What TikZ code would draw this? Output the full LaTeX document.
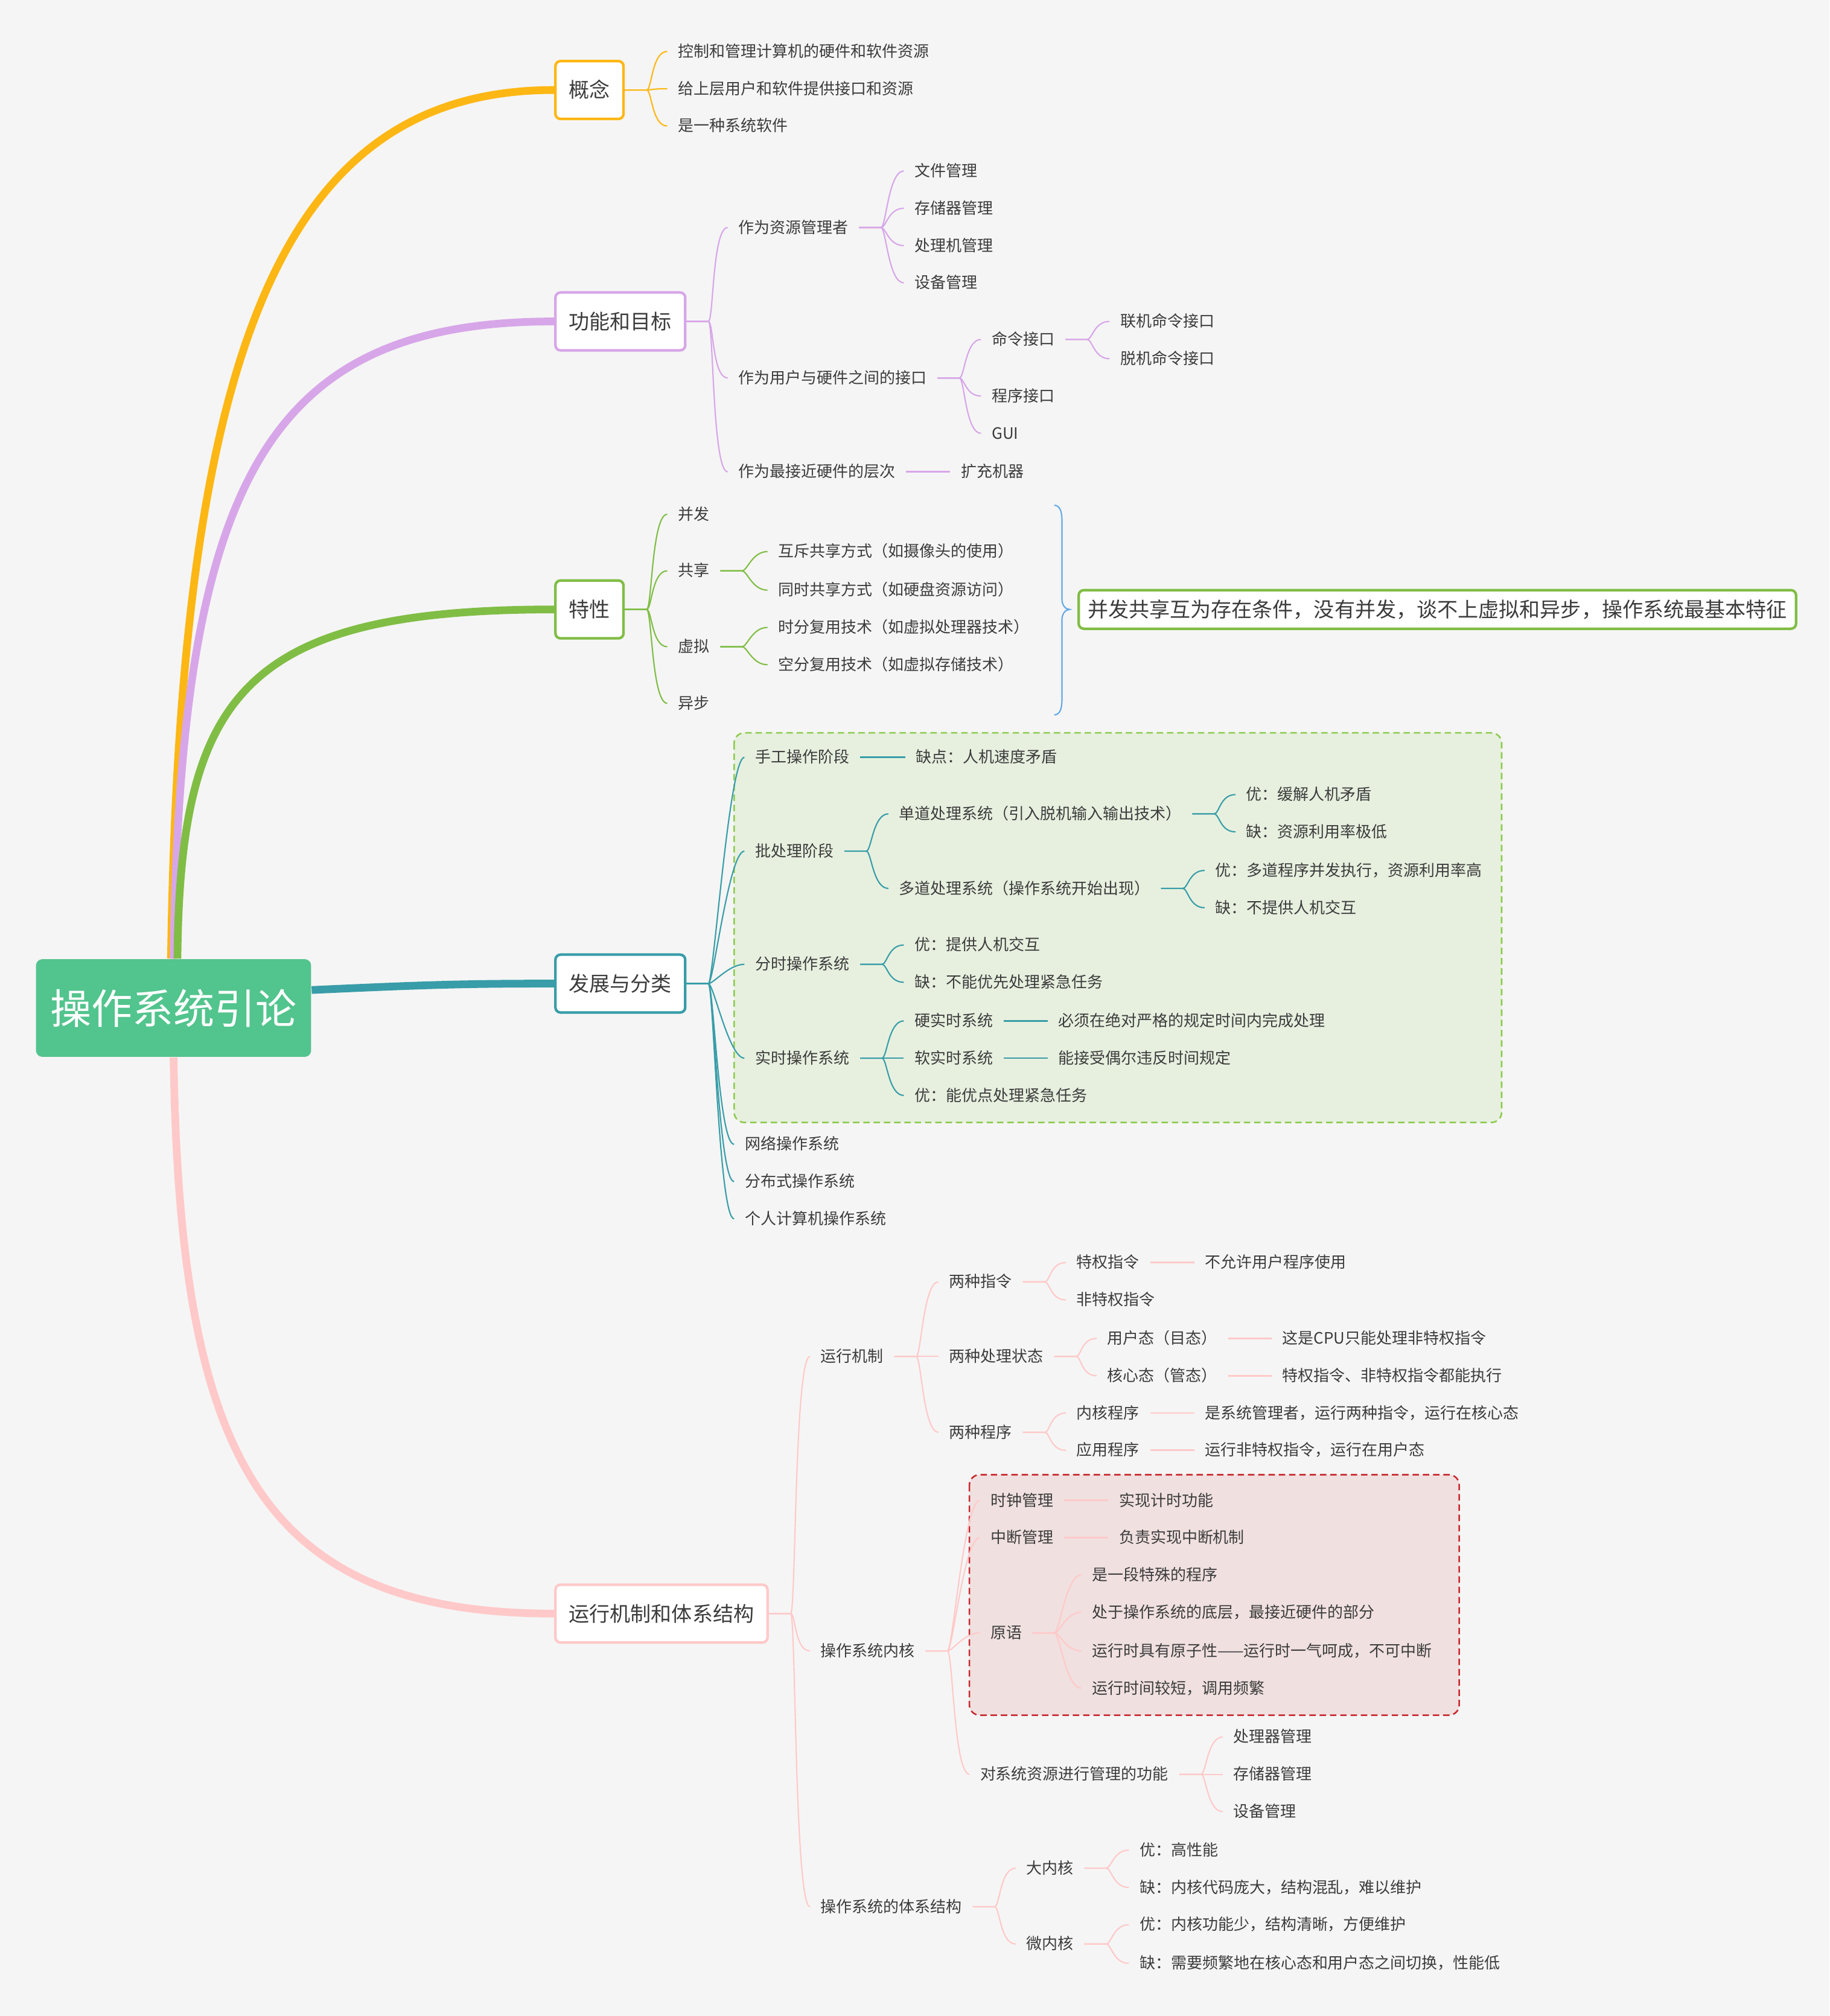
\documentclass[tikz,border=0pt]{standalone}
\usepackage{fontspec}
\setmainfont{Noto Sans CJK SC}
\usetikzlibrary{positioning, backgrounds}
\definecolor{bg}{HTML}{F5F5F5}
\definecolor{ink}{HTML}{3C3C3C}
\definecolor{yel}{HTML}{FDB714}
\definecolor{pur}{HTML}{D7A6E8}
\definecolor{grn}{HTML}{80BD45}
\definecolor{tea}{HTML}{389DA8}
\definecolor{pnk}{HTML}{FFC9C9}
\definecolor{osg}{HTML}{52C48D}
\definecolor{brc}{HTML}{62A8E6}
\definecolor{grnbox}{HTML}{E7F0DF}
\definecolor{grndash}{HTML}{8CCB4C}
\definecolor{redbox}{HTML}{F0E0E0}
\definecolor{reddash}{HTML}{C8282E}

\begin{document}
\begin{tikzpicture}[x=1pt, y=-1pt, thick,
    leaf/.style = {anchor=west, inner xsep=8pt, inner ysep=1pt, text=ink, text height=10pt, text depth=1.4pt, font=\fontsize{12.2}{14}\selectfont},
    topic/.style = {draw=#1, anchor=west, fill=white, line width=2pt, rounded corners=4pt, inner xsep=10.5pt, minimum height=45pt, text=ink, text height=14pt, text depth=2pt, font=\fontsize{16}{19}\selectfont},
    fan/.style = {out=0, in=180, out distance=4pt, in distance=12pt},
    ln/.style = {draw=#1, line width=1pt},
    link/.style = {draw=#1, line width=1.3pt},
    main/.style = {draw=#1, line width=6pt},
    zone/.style = {fill=#1box, draw=#1dash, line width=1.2pt, dash pattern=on 5pt off 3pt, rounded corners=8pt}]
    \useasboundingbox (0,0) rectangle (1423,1568);

    \node[fill=osg, rounded corners=5pt, text=white, minimum width=214pt, minimum height=76pt, inner sep=0pt, font=\fontsize{32}{36}\selectfont] (os) at (135,784) {操作系统引论};

    \node[topic=yel] (gn) at (431,70) {概念};
    \node[topic=pur] (gm) at (431,250) {功能和目标};
    \node[topic=grn] (tx) at (431,474) {特性};
    \node[topic=tea] (fz) at (431,765) {发展与分类};
    \node[topic=pnk] (yx) at (431,1255) {运行机制和体系结构};

    % 概念
    \node[leaf] (gn1) at (519,40) {控制和管理计算机的硬件和软件资源};
    \node[leaf] (gn2) at (519,69) {给上层用户和软件提供接口和资源};
    \node[leaf] (gn3) at (519,98) {是一种系统软件};

    % 功能和目标
    \node[leaf] (gm1) at (566,177) {作为资源管理者};
    \node[leaf] (gm2) at (566,294) {作为用户与硬件之间的接口};
    \node[leaf] (gm3) at (566,367) {作为最接近硬件的层次};
    \node[leaf] (zy1) at (703,133) {文件管理};
    \node[leaf] (zy2) at (703,162) {存储器管理};
    \node[leaf] (zy3) at (703,191) {处理机管理};
    \node[leaf] (zy4) at (703,220) {设备管理};
    \node[leaf] (jk1) at (763,264) {命令接口};
    \node[leaf] (jk2) at (763,308) {程序接口};
    \node[leaf] (jk3) at (763,337) {GUI};
    \node[leaf] (ml1) at (863,250) {联机命令接口};
    \node[leaf] (ml2) at (863,279) {脱机命令接口};
    \node[leaf] (kc) at (739,367) {扩充机器};

    % 特性
    \node[leaf] (tx1) at (519,400) {并发};
    \node[leaf] (tx2) at (519,444) {共享};
    \node[leaf] (tx3) at (519,503) {虚拟};
    \node[leaf] (tx4) at (519,547) {异步};
    \node[leaf] (gx1) at (597,429) {互斥共享方式（如摄像头的使用）};
    \node[leaf] (gx2) at (597,459) {同时共享方式（如硬盘资源访问）};
    \node[leaf] (xn1) at (597,488) {时分复用技术（如虚拟处理器技术）};
    \node[leaf] (xn2) at (597,517) {空分复用技术（如虚拟存储技术）};
    \node[draw=grn, fill=white, line width=2pt, rounded corners=4pt, anchor=west, inner xsep=7pt, minimum height=30pt, text=ink, font=\fontsize{16}{19}\selectfont] (zj) at (838,474) {并发共享互为存在条件，没有并发，谈不上虚拟和异步，操作系统最基本特征};

    % 发展与分类
    \node[leaf] (fz1) at (579,589) {手工操作阶段};
    \node[leaf] (fz2) at (579,662) {批处理阶段};
    \node[leaf] (fz3) at (579,750) {分时操作系统};
    \node[leaf] (fz4) at (579,823) {实时操作系统};
    \node[leaf] (fz5) at (571,890) {网络操作系统};
    \node[leaf] (fz6) at (571,919) {分布式操作系统};
    \node[leaf] (fz7) at (571,948) {个人计算机操作系统};
    \node[leaf] (qd) at (704,589) {缺点：人机速度矛盾};
    \node[leaf] (pc1) at (691,633) {单道处理系统（引入脱机输入输出技术）};
    \node[leaf] (pc2) at (691,691) {多道处理系统（操作系统开始出现）};
    \node[leaf] (dd1) at (961,618) {优：缓解人机矛盾};
    \node[leaf] (dd2) at (961,647) {缺：资源利用率极低};
    \node[leaf] (do1) at (937,677) {优：多道程序并发执行，资源利用率高};
    \node[leaf] (do2) at (937,706) {缺：不提供人机交互};
    \node[leaf] (fs1) at (703,735) {优：提供人机交互};
    \node[leaf] (fs2) at (703,764) {缺：不能优先处理紧急任务};
    \node[leaf] (ss1) at (703,794) {硬实时系统};
    \node[leaf] (ss2) at (703,823) {软实时系统};
    \node[leaf] (ss3) at (703,852) {优：能优点处理紧急任务};
    \node[leaf] (sy1) at (815,794) {必须在绝对严格的规定时间内完成处理};
    \node[leaf] (sy2) at (815,823) {能接受偶尔违反时间规定};

    % 运行机制和体系结构
    \node[leaf] (yx1) at (630,1055) {运行机制};
    \node[leaf] (yx2) at (630,1284) {操作系统内核};
    \node[leaf] (yx3) at (630,1483) {操作系统的体系结构};
    \node[leaf] (zl) at (730,997) {两种指令};
    \node[leaf] (zt) at (730,1055) {两种处理状态};
    \node[leaf] (cx) at (730,1114) {两种程序};
    \node[leaf] (tq1) at (829,982) {特权指令};
    \node[leaf] (tq2) at (829,1011) {非特权指令};
    \node[leaf] (tqs) at (929,982) {不允许用户程序使用};
    \node[leaf] (yh) at (853,1041) {用户态（目态）};
    \node[leaf] (hx) at (853,1070) {核心态（管态）};
    \node[leaf] (yhs) at (989,1041) {这是CPU只能处理非特权指令};
    \node[leaf] (hxs) at (989,1070) {特权指令、非特权指令都能执行};
    \node[leaf] (nh) at (829,1099) {内核程序};
    \node[leaf] (yy) at (829,1128) {应用程序};
    \node[leaf] (nhs) at (929,1099) {是系统管理者，运行两种指令，运行在核心态};
    \node[leaf] (yys) at (929,1128) {运行非特权指令，运行在用户态};
    \node[leaf] (sz) at (762,1167) {时钟管理};
    \node[leaf] (zd) at (762,1196) {中断管理};
    \node[leaf] (ya) at (762,1270) {原语};
    \node[leaf] (gl) at (754,1380) {对系统资源进行管理的功能};
    \node[leaf] (szs) at (862,1167) {实现计时功能};
    \node[leaf] (zds) at (862,1196) {负责实现中断机制};
    \node[leaf] (ya1) at (841,1225) {是一段特殊的程序};
    \node[leaf] (ya2) at (841,1254) {处于操作系统的底层，最接近硬件的部分};
    \node[leaf] (ya3) at (841,1284) {运行时具有原子性——运行时一气呵成，不可中断};
    \node[leaf] (ya4) at (841,1313) {运行时间较短，调用频繁};
    \node[leaf] (gl1) at (951,1351) {处理器管理};
    \node[leaf] (gl2) at (951,1380) {存储器管理};
    \node[leaf] (gl3) at (951,1409) {设备管理};
    \node[leaf] (dn) at (790,1453) {大内核};
    \node[leaf] (wn) at (790,1512) {微内核};
    \node[leaf] (dn1) at (878,1439) {优：高性能};
    \node[leaf] (dn2) at (878,1468) {缺：内核代码庞大，结构混乱，难以维护};
    \node[leaf] (wn1) at (878,1497) {优：内核功能少，结构清晰，方便维护};
    \node[leaf] (wn2) at (878,1527) {缺：需要频繁地在核心态和用户态之间切换，性能低};

    % fans
    \foreach \c in {gn1,gn2,gn3}
        \draw[ln=yel] (gn.east) -- ++(17,0) to[fan] (\c.west);
    \foreach \c in {gm1,gm2,gm3}
        \draw[ln=pur] (gm.east) -- ++(17,0) to[fan] (\c.west);
    \foreach \c in {zy1,zy2,zy3,zy4}
        \draw[ln=pur] (gm1.east) -- ++(17,0) to[fan] (\c.west);
    \foreach \c in {jk1,jk2,jk3}
        \draw[ln=pur] (gm2.east) -- ++(17,0) to[fan] (\c.west);
    \foreach \c in {ml1,ml2}
        \draw[ln=pur] (jk1.east) -- ++(17,0) to[fan] (\c.west);
    \draw[link=pur] (gm3.east) -- (kc.west);

    \foreach \c in {tx1,tx2,tx3,tx4}
        \draw[ln=grn] (tx.east) -- ++(17,0) to[fan] (\c.west);
    \foreach \c in {gx1,gx2}
        \draw[ln=grn] (tx2.east) -- ++(17,0) to[fan] (\c.west);
    \foreach \c in {xn1,xn2}
        \draw[ln=grn] (tx3.east) -- ++(17,0) to[fan] (\c.west);
    \draw[brc, line width=1pt] (820,393) .. controls (824,393) and (826,397) .. (826,405) -- (826,466)
        .. controls (826,471) and (829,474) .. (832,474) .. controls (829,474) and (826,477) .. (826,482)
        -- (826,544) .. controls (826,552) and (824,556) .. (820,556);

    \foreach \c in {fz1,fz2,fz3,fz4,fz5,fz6,fz7}
        \draw[ln=tea] (fz.east) -- ++(17,0) to[fan] (\c.west);
    \draw[link=tea] (fz1.east) -- (qd.west);
    \foreach \c in {pc1,pc2}
        \draw[ln=tea] (fz2.east) -- ++(17,0) to[fan] (\c.west);
    \foreach \c in {dd1,dd2}
        \draw[ln=tea] (pc1.east) -- ++(17,0) to[fan] (\c.west);
    \foreach \c in {do1,do2}
        \draw[ln=tea] (pc2.east) -- ++(17,0) to[fan] (\c.west);
    \foreach \c in {fs1,fs2}
        \draw[ln=tea] (fz3.east) -- ++(17,0) to[fan] (\c.west);
    \foreach \c in {ss1,ss2,ss3}
        \draw[ln=tea] (fz4.east) -- ++(17,0) to[fan] (\c.west);
    \draw[link=tea] (ss1.east) -- (sy1.west);
    \draw[link=tea] (ss2.east) -- (sy2.west);

    \foreach \c in {yx1,yx2,yx3}
        \draw[ln=pnk] (yx.east) -- ++(17,0) to[fan] (\c.west);
    \foreach \c in {zl,zt,cx}
        \draw[ln=pnk] (yx1.east) -- ++(17,0) to[fan] (\c.west);
    \foreach \c in {tq1,tq2}
        \draw[ln=pnk] (zl.east) -- ++(17,0) to[fan] (\c.west);
    \foreach \c in {yh,hx}
        \draw[ln=pnk] (zt.east) -- ++(17,0) to[fan] (\c.west);
    \foreach \c in {nh,yy}
        \draw[ln=pnk] (cx.east) -- ++(17,0) to[fan] (\c.west);
    \draw[link=pnk] (tq1.east) -- (tqs.west);
    \draw[link=pnk] (yh.east) -- (yhs.west);
    \draw[link=pnk] (hx.east) -- (hxs.west);
    \draw[link=pnk] (nh.east) -- (nhs.west);
    \draw[link=pnk] (yy.east) -- (yys.west);
    \foreach \c in {sz,zd,ya,gl}
        \draw[ln=pnk] (yx2.east) -- ++(17,0) to[fan] (\c.west);
    \draw[link=pnk] (sz.east) -- (szs.west);
    \draw[link=pnk] (zd.east) -- (zds.west);
    \foreach \c in {ya1,ya2,ya3,ya4}
        \draw[ln=pnk] (ya.east) -- ++(17,0) to[fan] (\c.west);
    \foreach \c in {gl1,gl2,gl3}
        \draw[ln=pnk] (gl.east) -- ++(17,0) to[fan] (\c.west);
    \foreach \c in {dn,wn}
        \draw[ln=pnk] (yx3.east) -- ++(17,0) to[fan] (\c.west);
    \foreach \c in {dn1,dn2}
        \draw[ln=pnk] (dn.east) -- ++(17,0) to[fan] (\c.west);
    \foreach \c in {wn1,wn2}
        \draw[ln=pnk] (wn.east) -- ++(17,0) to[fan] (\c.west);

    \begin{scope}[on background layer]
        \fill[bg] (0,0) rectangle (1423,1568);
        \draw[zone=grn] (571,570) rectangle (1168,873);
        \draw[zone=red] (754,1147) rectangle (1135,1334);
        \draw[main=yel] ([xshift=-2pt]os.north) .. controls (140,270) and (220,70) .. (gn.west);
        \draw[main=pur] (os.north) .. controls (140,370) and (210,250) .. (gm.west);
        \draw[main=grn] ([xshift=3pt]os.north) .. controls (140,540) and (190,474) .. (tx.west);
        \draw[main=tea] ([yshift=14pt]os.east) .. controls (330,766) and (360,765) .. (fz.west);
        \draw[main=pnk] (os.south) .. controls (140,1130) and (200,1255) .. (yx.west);
    \end{scope}
\end{tikzpicture}
\end{document}
